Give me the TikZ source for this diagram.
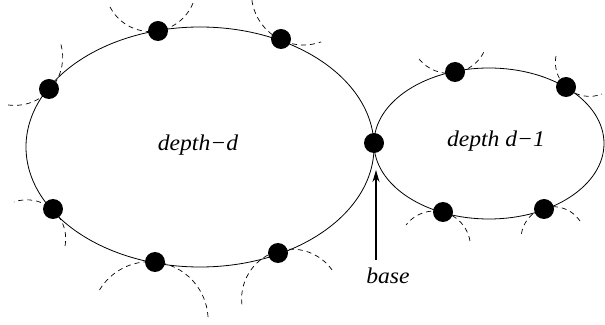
\documentclass[tikz,border=0pt]{standalone}
\usepackage{fontspec}
\setmainfont{Liberation Serif}
\usepackage{graphicx}
\usetikzlibrary{arrows.meta}
\tikzset{
  ring/.style={draw=black, line width=0.8pt},
  dot/.style={circle, fill=black, draw=none, minimum size=20pt, inner sep=0pt},
  childarc/.style={draw=black, line width=0.7pt, dash pattern=on 5pt off 4pt},
  lbl/.style={anchor=base, inner sep=0pt, font=\fontsize{22.5}{26}\selectfont\itshape},
  pointer/.style={draw=black, line width=1.2pt, -{Stealth[length=12pt,width=7pt]}}
}
\newcommand{\wide}[1]{\scalebox{1.05}[1]{#1}}
\begin{document}
\begin{tikzpicture}[x=1pt,y=1pt]
\useasboundingbox (0,0) rectangle (605,324);
% dashed arcs of child rings
\draw[childarc] ([shift={(207.6:45.8pt)}]150.6,338.2) arc[start angle=207.6, end angle=338, radius=45.8pt];
\draw[childarc] ([shift={(188:52pt)}]303.4,331) arc[start angle=188, end angle=290, radius=52pt];
\draw[childarc] ([shift={(-97.7:48.2pt)}]14.5,266.8) arc[start angle=-97.7, end angle=15.8, radius=48.2pt];
\draw[childarc] ([shift={(-10.8:38.9pt)}]26.8,85.3) arc[start angle=-10.8, end angle=109.2, radius=38.9pt];
\draw[childarc] ([shift={(3:58.5pt)}]149.6,3.8) arc[start angle=3, end angle=150, radius=58.5pt];
\draw[childarc] ([shift={(35.6:49.9pt)}]291.5,25) arc[start angle=35.6, end angle=186.9, radius=49.9pt];
\draw[childarc] ([shift={(219:38.8pt)}]449.2,289.4) arc[start angle=219, end angle=333.4, radius=38.8pt];
\draw[childarc] ([shift={(169.4:34.1pt)}]589.5,261.7) arc[start angle=169.4, end angle=291.5, radius=34.1pt];
\draw[childarc] ([shift={(9.6:36pt)}]434.5,77) arc[start angle=9.6, end angle=142.3, radius=36pt];
\draw[childarc] ([shift={(33.7:32.2pt)}]553.2,85.1) arc[start angle=33.7, end angle=176.6, radius=32.2pt];
% rings
\draw[ring] (200,177) ellipse[x radius=174pt, y radius=120pt];
\draw[ring] (489,180.5) ellipse[x radius=115pt, y radius=75.5pt];
% dots
\node[dot] (d1) at (158,293) {};
\node[dot] (d2) at (281,285) {};
\node[dot] (d3) at (49,235) {};
\node[dot] (d4) at (53,115) {};
\node[dot] (d5) at (155,62) {};
\node[dot] (d6) at (278,71) {};
\node[dot] (bd) at (374,181) {};
\node[dot] (e1) at (455,252) {};
\node[dot] (e2) at (566,237) {};
\node[dot] (e3) at (443,112) {};
\node[dot] (e4) at (544,115) {};
% labels
\node[lbl] (big) at (198,173) {\wide{depth−d}};
\node[lbl] (small) at (496,177.3) {\wide{depth d−1}};
\node[lbl] (base) at (388,41) {\wide{base}};
% arrow
\coordinate (tail) at (376,64);
\coordinate (tip) at (376,154);
\draw[pointer] (tail) -- (tip);
\end{tikzpicture}
\end{document}
